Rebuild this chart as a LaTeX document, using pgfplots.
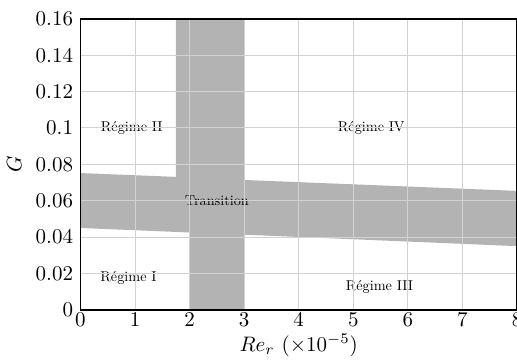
\documentclass[border=0pt]{standalone}
\usepackage{graphicx}
\usepackage{pgfplots}
\pgfplotsset{compat=1.18}
\definecolor{bandgray}{RGB}{179,179,179}
\definecolor{gridgray}{RGB}{210,210,210}
\newcommand{\lbl}[1]{\scalebox{0.68}{#1}}
\begin{document}
\begin{tikzpicture}[trim axis right]
\begin{axis}[
  axis on top,
  scale only axis,
  width=208pt, height=138.6pt,
  xmin=0, xmax=8, ymin=0, ymax=0.16,
  xtick={0,1,...,8},
  ytick={0,0.02,...,0.16},
  yticklabel style={/pgf/number format/fixed,/pgf/number format/precision=2},
  scaled y ticks=false,
  grid=major,
  major grid style={gridgray, line width=0.5pt},
  axis line style={line width=0.7pt},
  major tick length=0pt,
  xlabel={$Re_r$ ($\times10^{-5}$)},
  ylabel={$G$},
  xticklabel style={yshift=1.8pt},
  xlabel style={yshift=3.5pt},
]
\addplot[fill=bandgray, draw=none] coordinates {
 (1.75,0.16) (3,0.16) (3,0.0714) (8,0.0654) (8,0.035) (3,0.0413) (3,0) (2,0) (2,0.0425) (0,0.045) (0,0.0752) (1.75,0.0731)
} -- cycle;
\node at (axis cs:0.94,0.1) {\lbl{Régime II}};
\node at (axis cs:0.88,0.0177) {\lbl{Régime I}};
\node at (axis cs:2.5,0.06) {\lbl{Transition}};
\node at (axis cs:5.33,0.1) {\lbl{Régime IV}};
\node at (axis cs:5.48,0.0127) {\lbl{Régime III}};
\end{axis}
\path ([yshift=9pt]current axis.north west);
\end{tikzpicture}
\end{document}
